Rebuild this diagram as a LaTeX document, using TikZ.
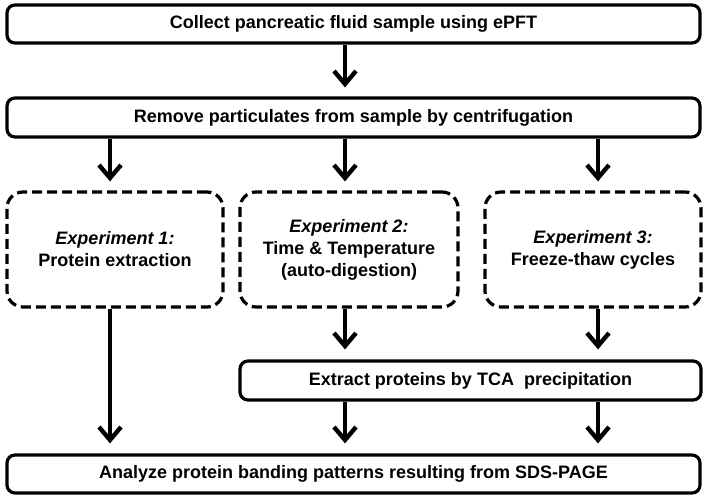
\documentclass[tikz,border=0pt]{standalone}
\usepackage{fontspec}
\setmainfont{Liberation Sans}
\usetikzlibrary{arrows.meta}
\begin{document}
\begin{tikzpicture}[x=1pt,y=1pt,
  solidbox/.style={draw=black, line width=3.2pt, rounded corners=8pt, fill=white, inner sep=0pt, font=\fontsize{18}{22}\selectfont\bfseries, align=center},
  dashbox/.style={draw=black, line width=3.2pt, rounded corners=16pt, dash pattern=on 10pt off 5pt, inner sep=0pt, font=\fontsize{18}{22}\selectfont\bfseries, align=center, minimum height=115pt},
  arr/.style={line width=4.4pt, -{Straight Barb[length=13pt, width=22pt, line width=4.4pt]}}
]
\useasboundingbox (0,0) rectangle (707,499);
\node[solidbox, minimum width=693pt, minimum height=38pt] (collect) at (353.5,475) {Collect pancreatic fluid sample using ePFT};
\node[solidbox, minimum width=693pt, minimum height=39pt] (remove) at (353.5,381.5) {Remove particulates from sample by centrifugation};
\node[dashbox, minimum width=216pt] (exp1) at (115,249.5) {\textit{Experiment 1:}\\Protein extraction};
\node[dashbox, minimum width=218pt] (exp2) at (349,249.5) {\textit{Experiment 2:}\\Time \& Temperature\\(auto-digestion)};
\node[dashbox, minimum width=216pt] (exp3) at (593,249.5) {\textit{Experiment 3:}\\Freeze-thaw cycles};
\node[solidbox, minimum width=461pt, minimum height=39pt] (tca) at (470.5,118.5) {Extract proteins by TCA\ \ precipitation};
\node[solidbox, minimum width=693pt, minimum height=38pt] (analyze) at (353.5,25) {Analyze protein banding patterns resulting from SDS-PAGE};
\coordinate (c1) at (110,0);
\coordinate (c2) at (345,0);
\coordinate (c3) at (598,0);
\draw[arr] (collect.south -| c2) -- ([yshift=9pt]remove.north -| c2);
\draw[arr] (remove.south -| c1) -- ([yshift=9pt]exp1.north -| c1);
\draw[arr] (remove.south -| c2) -- ([yshift=9pt]exp2.north -| c2);
\draw[arr] (remove.south -| c3) -- ([yshift=9pt]exp3.north -| c3);
\draw[arr] (exp2.south -| c2) -- ([yshift=10pt]tca.north -| c2);
\draw[arr] (exp3.south -| c3) -- ([yshift=10pt]tca.north -| c3);
\draw[arr] (exp1.south -| c1) -- ([yshift=10pt]analyze.north -| c1);
\draw[arr] (tca.south -| c2) -- ([yshift=10pt]analyze.north -| c2);
\draw[arr] (tca.south -| c3) -- ([yshift=10pt]analyze.north -| c3);
\end{tikzpicture}
\end{document}
